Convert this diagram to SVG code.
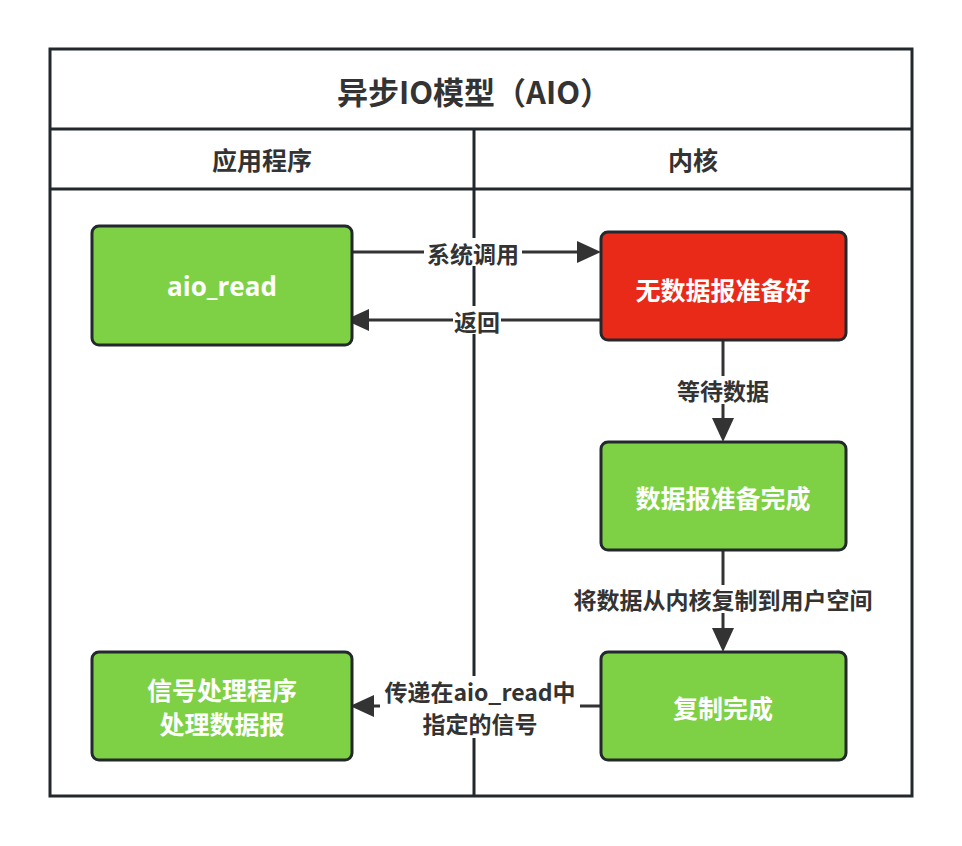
<svg xmlns="http://www.w3.org/2000/svg" width="962" height="846" viewBox="0 0 962 846">
<defs>
<style>
text{font-family:"Noto Sans CJK SC","Liberation Sans",sans-serif;font-weight:bold;text-anchor:middle;dominant-baseline:central}
.frame{fill:none;stroke:#23282c;stroke-width:3}
.box{stroke:#23282c;stroke-width:3}
.green{fill:#7ed144}
.red{fill:#ea2a19}
.nt{fill:#fff;font-size:25px}
.hd{fill:#333;font-size:25px}
.edge{stroke:#333;stroke-width:3;fill:none}
.lbl{fill:#333;font-size:23px}
.lblbg{fill:#fff}
</style>
</defs>
<rect width="962" height="846" fill="#fff"/>
<g id="pool">
<rect class="frame" x="50" y="49" width="862" height="747"/>
<line class="frame" x1="50" y1="129" x2="912" y2="129"/>
<line class="frame" x1="50" y1="189" x2="912" y2="189"/>
<line class="frame" x1="474" y1="129" x2="474" y2="796"/>
<text x="474" y="90" style="font-size:31px;fill:#333">异步IO模型（AIO）</text>
<text class="hd" x="262" y="159">应用程序</text>
<text class="hd" x="693" y="159">内核</text>
</g>
<g id="connectors">
<line class="edge" x1="352" y1="252" x2="583" y2="252"/>
<polygon points="601,252 577,241 577,263" fill="#333"/>
<rect class="lblbg" x="424" y="238" width="98" height="28"/>
<text class="lbl" x="473" y="253">系统调用</text>
<line class="edge" x1="601" y1="320" x2="365" y2="320"/>
<polygon points="345,320 369,309 369,331" fill="#333"/>
<rect class="lblbg" x="453" y="306" width="48" height="28"/>
<text class="lbl" x="477" y="321">返回</text>
<line class="edge" x1="723" y1="340" x2="723" y2="422"/>
<polygon points="723,442 712,418 734,418" fill="#333"/>
<rect class="lblbg" x="675" y="376" width="96" height="28"/>
<text class="lbl" x="723" y="390">等待数据</text>
<line class="edge" x1="723" y1="550" x2="723" y2="632"/>
<polygon points="723,652 712,628 734,628" fill="#333"/>
<rect class="lblbg" x="570" y="585" width="306" height="28"/>
<text class="lbl" x="723" y="599">将数据从内核复制到用户空间</text>
<line class="edge" x1="601" y1="706" x2="370" y2="706"/>
<polygon points="350,706 374,695 374,717" fill="#333"/>
<rect class="lblbg" x="380" y="676" width="200" height="62"/>
<text class="lbl" x="480" y="691">传递在aio_read中</text>
<text class="lbl" x="480" y="723">指定的信号</text>
</g>
<g id="aio_read">
<rect class="box green" x="92" y="226" width="260" height="119" rx="7"/>
<text class="nt" x="222" y="286" style="font-family:'Open Sans','Noto Sans',sans-serif;font-size:26px">aio_read</text>
</g>
<g id="no_data">
<rect class="box red" x="601" y="232" width="245" height="108" rx="7"/>
<text class="nt" x="723" y="289">无数据报准备好</text>
</g>
<g id="data_ready">
<rect class="box green" x="601" y="442" width="245" height="108" rx="7"/>
<text class="nt" x="723" y="497">数据报准备完成</text>
</g>
<g id="copy_done">
<rect class="box green" x="601" y="652" width="245" height="108" rx="7"/>
<text class="nt" x="723" y="707">复制完成</text>
</g>
<g id="handler">
<rect class="box green" x="92" y="652" width="260" height="108" rx="7"/>
<text class="nt" x="222" y="689">信号处理程序</text>
<text class="nt" x="222" y="723">处理数据报</text>
</g>
</svg>
